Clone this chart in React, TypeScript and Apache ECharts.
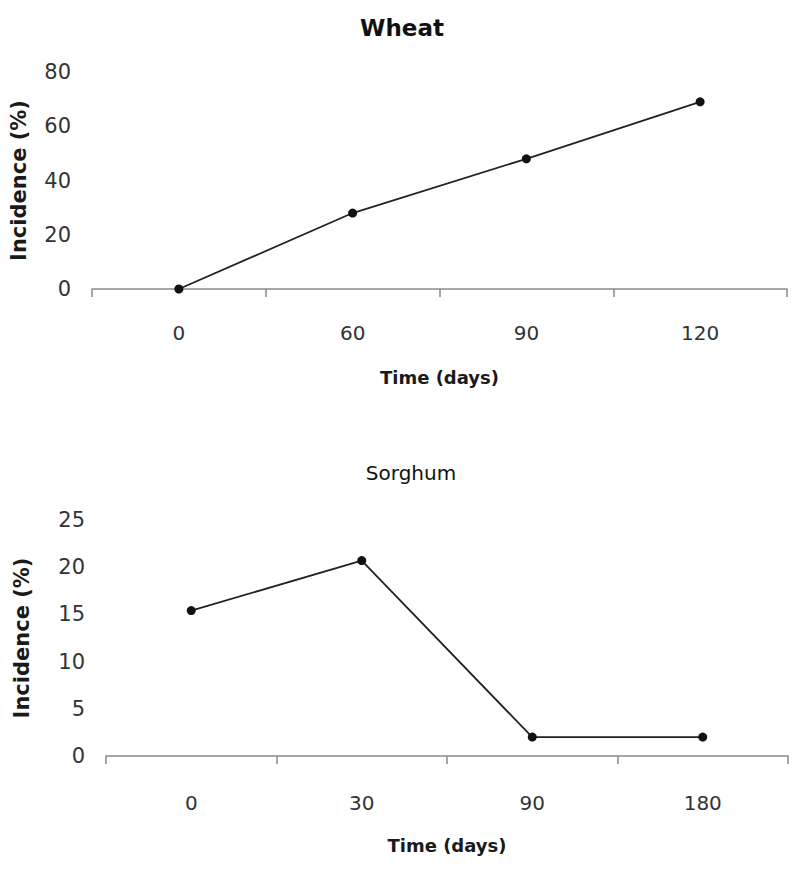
import React, { useEffect, useRef } from "react";
import * as echarts from "echarts";

const wheatDays = ["0", "60", "90", "120"];
const wheatIncidence = [0, 28, 48, 69];
const sorghumDays = ["0", "30", "90", "180"];
const sorghumIncidence = [15.4, 20.7, 2, 2];
const wheatTicks = { min: 0, max: 80, interval: 20 };
const sorghumTicks = { min: 0, max: 25, interval: 5 };

const FONT = "DejaVu Sans";

export default function App() {
  const ref = useRef<HTMLDivElement>(null);
  useEffect(() => {
    if (!ref.current) return;
    const chart = echarts.init(ref.current, null, { renderer: "svg" });
    const xAxisCommon = (gridIndex: number, data: string[], gap: number, labelMargin: number) => ({
      type: "category",
      gridIndex,
      data,
      boundaryGap: true,
      name: "Time (days)",
      nameLocation: "middle",
      nameGap: gap,
      nameTextStyle: { fontFamily: FONT, fontSize: 18, fontWeight: "bold", color: "#1a1a1a" },
      axisLine: { show: true, lineStyle: { color: "#8a8a8a", width: 1.5 } },
      axisTick: { show: true, alignWithLabel: false, length: 8, lineStyle: { color: "#8a8a8a", width: 1.5 } },
      axisLabel: { margin: labelMargin, fontFamily: FONT, fontSize: 20, color: "#333" },
      splitLine: { show: false },
    });
    const yAxisCommon = (gridIndex: number, t: { min: number; max: number; interval: number }, gap: number, nameSize: number) => ({
      type: "value",
      gridIndex,
      min: t.min,
      max: t.max,
      interval: t.interval,
      name: "Incidence (%)",
      nameLocation: "middle",
      nameGap: gap,
      nameTextStyle: { fontFamily: FONT, fontSize: nameSize, fontWeight: "bold", color: "#1a1a1a" },
      axisLine: { show: false },
      axisTick: { show: false },
      splitLine: { show: false },
      axisLabel: { margin: 21, fontFamily: FONT, fontSize: 21, color: "#333" },
    });
    const lineSeries = (idx: number, data: number[]) => ({
      type: "line",
      xAxisIndex: idx,
      yAxisIndex: idx,
      data,
      symbol: "circle",
      symbolSize: 9,
      lineStyle: { color: "#222", width: 1.8 },
      itemStyle: { color: "#111" },
    });
    chart.setOption({
      animation: false,
      backgroundColor: "#ffffff",
      title: [
        {
          text: "Wheat",
          left: 397,
          textAlign: "center",
          top: 11,
          textStyle: { fontFamily: FONT, fontSize: 23, fontWeight: "bold", color: "#111" },
        },
        {
          text: "Sorghum",
          left: 406,
          textAlign: "center",
          top: 458,
          textStyle: { fontFamily: FONT, fontSize: 20, fontWeight: "normal", color: "#111" },
        },
      ],
      grid: [
        { left: 92, right: 13, top: 72, height: 217 },
        { left: 106, right: 12, top: 520, height: 236 },
      ],
      xAxis: [xAxisCommon(0, wheatDays, 79, 34), xAxisCommon(1, sorghumDays, 80, 37)],
      yAxis: [yAxisCommon(0, wheatTicks, 63, 21), yAxisCommon(1, sorghumTicks, 74, 21)],
      series: [lineSeries(0, wheatIncidence), lineSeries(1, sorghumIncidence)],
    });
    return () => chart.dispose();
  }, []);
  return (
    <div
      ref={ref}
      style={{ position: "fixed", left: 0, top: 0, width: 800, height: 881, background: "#fff" }}
    />
  );
}
